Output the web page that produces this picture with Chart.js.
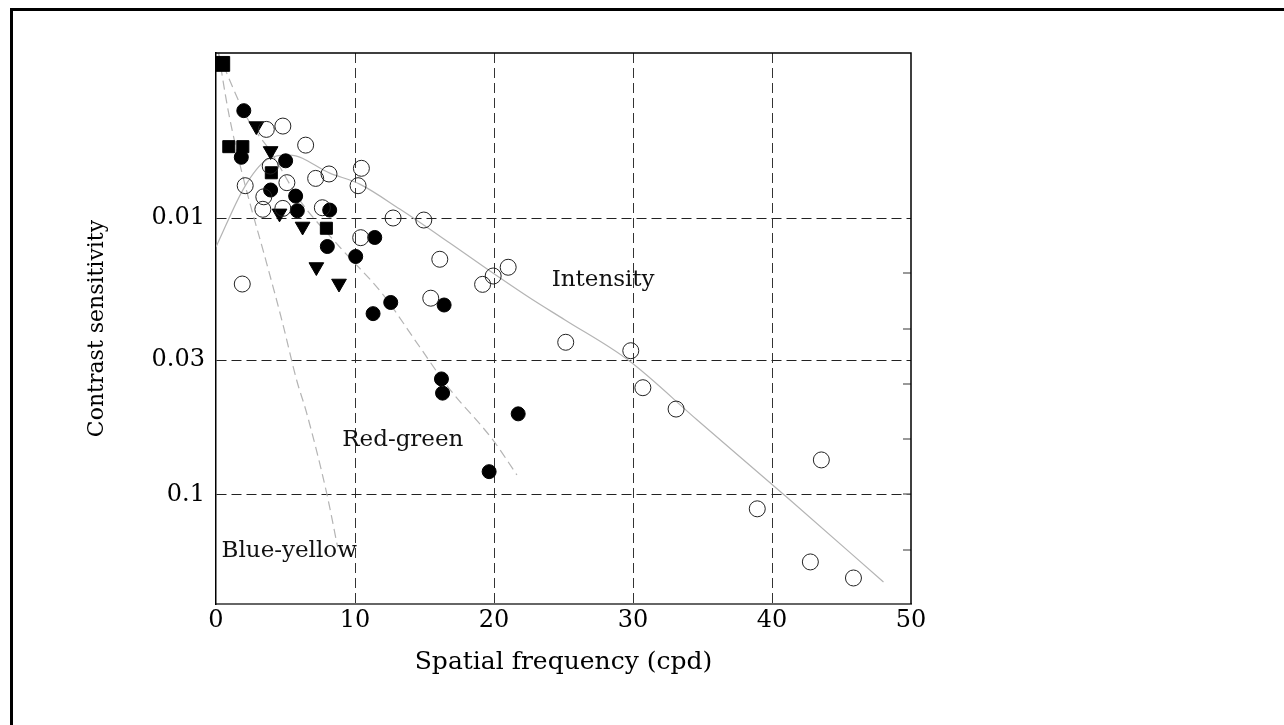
<!DOCTYPE html>
<html><head><meta charset="utf-8">
<script src="https://cdn.jsdelivr.net/npm/chart.js@4"></script>
<style>
html,body{margin:0;padding:0;background:#fff;overflow:hidden;}
#frame{position:absolute;left:10px;top:8px;width:1300px;height:740px;border-left:3px solid #000;border-top:3px solid #000;}
#wrap{position:absolute;left:0;top:0;width:1284px;height:725px;}
</style></head><body>
<div id="frame"></div>
<div id="wrap"><canvas id="c" width="1284" height="725"></canvas></div>
<script>
// ---- Data ----
const intensityX = [3.62,4.81,6.45,3.90,7.17,8.13,10.46,10.22,2.10,5.10,3.44,3.37,4.81,7.65,12.74,14.95,10.41,1.89,16.10,21.02,19.94,19.18,15.45,25.16,29.84,30.71,33.10,38.94,43.55,42.76,45.86];
const intensityY = [0.00478,0.00465,0.00545,0.00649,0.00719,0.00693,0.00661,0.00764,0.00764,0.00745,0.00838,0.00930,0.00923,0.00918,0.0100,0.01017,0.01178,0.01733,0.01410,0.01507,0.01621,0.01738,0.01950,0.02815,0.0302,0.0411,0.0491,0.1127,0.0750,0.1754,0.2005];

const redGreenX = [2.00,1.82,5.01,3.93,5.73,5.85,8.18,11.42,8.01,10.05,12.57,11.30,16.41,16.22,16.30,21.74,19.65];
const redGreenY = [0.00409,0.00603,0.00621,0.00792,0.00833,0.00941,0.00936,0.01176,0.01268,0.01378,0.02021,0.02218,0.02064,0.0382,0.0430,0.0511,0.0827];

const triangleX = [2.90,3.93,4.57,6.23,7.22,8.85];
const triangleY = [0.00465,0.00572,0.00962,0.01073,0.01504,0.01725];

const squareX = [0.45,0.92,1.93,3.98,7.94];
const squareY = [0.00277,0.00552,0.00552,0.00686,0.01089];

const intensityFitX = [0,2.05,3.62,5.3,8.18,10.34,13.22,16.82,19.92,22.59,25.11,29.65,34.62,41.3,48.02];
const intensityFitY = [0.01273,0.00773,0.00617,0.00592,0.00688,0.00754,0.00928,0.01231,0.01581,0.01947,0.02338,0.03265,0.0538,0.1047,0.2073];

const redGreenFitX = [0.15,2.20,4.0,6.02,8.90,11.92,14.66,16.68,19.92,21.65];
const redGreenFitY = [0.00253,0.00431,0.00582,0.00861,0.01273,0.01867,0.02928,0.0408,0.0635,0.0850];

const blueYellowFitX = [0.18,0.83,1.48,2.13,3.64,4.79,5.80,6.52,7.96,8.75];
const blueYellowFitY = [0.00253,0.00397,0.00568,0.00773,0.01455,0.02398,0.03855,0.0507,0.0988,0.1549];

const xTickValues = [0,10,20,30,40,50];
const yTickValues = [0.01,0.0327,0.1];
const yTickLabels = ['0.01','0.03','0.1'];
const rightTickValues = [0.01585,0.02512,0.03981,0.0631,0.1,0.1585];

const curveLabels = ['Intensity','Red-green','Blue-yellow'];
const curveLabelX = [27.85,13.44,0.4];
const curveLabelY = [0.01676,0.0635,0.160];

// ---- helpers ----
const pts = (xs, ys) => xs.map((x,i)=>({x:x, y:ys[i]}));
const FONT = '"DejaVu Serif", serif';

const decor = {
  id:'decor',
  afterDatasetsDraw(chart){
    const {ctx, chartArea:a, scales:{x,y}} = chart;
    ctx.save();
    // inward minor ticks on the right edge
    ctx.strokeStyle = '#777'; ctx.lineWidth = 1.5;
    rightTickValues.forEach(v=>{
      const py = Math.round(y.getPixelForValue(v));
      ctx.beginPath(); ctx.moveTo(a.right-8, py); ctx.lineTo(a.right, py); ctx.stroke();
    });
    // top and right frame of the plot
    ctx.strokeStyle = '#000'; ctx.lineWidth = 1.5;
    ctx.beginPath();
    ctx.moveTo(a.left, a.top); ctx.lineTo(a.right, a.top); ctx.lineTo(a.right, a.bottom);
    ctx.stroke();
    // curve labels
    ctx.fillStyle = '#111';
    ctx.font = '23px ' + FONT;
    ctx.textBaseline = 'middle';
    curveLabels.forEach((t,i)=>{
      ctx.textAlign = i===2 ? 'left' : 'center';
      ctx.fillText(t, x.getPixelForValue(curveLabelX[i]), y.getPixelForValue(curveLabelY[i]));
    });
    ctx.restore();
  }
};

const lineDs = (label, xs, ys, dash) => ({
  type:'scatter', label, data: pts(xs,ys), showLine:true, pointRadius:0,
  borderColor:'#b4b4b4', borderWidth:1.2, borderDash:dash, cubicInterpolationMode:'monotone',
  fill:false, order:5
});

new Chart(document.getElementById('c'), {
  type:'scatter',
  data:{ datasets:[
    lineDs('Intensity fit', intensityFitX, intensityFitY, []),
    lineDs('Red-green fit', redGreenFitX, redGreenFitY, [9,5]),
    lineDs('Blue-yellow fit', blueYellowFitX, blueYellowFitY, [9,5]),
    { label:'Intensity', data:pts(intensityX,intensityY), pointStyle:'circle', pointRadius:8,
      backgroundColor:'rgba(0,0,0,0)', borderColor:'#222', borderWidth:1, order:1 },
    { label:'Red-green', data:pts(redGreenX,redGreenY), pointStyle:'circle', pointRadius:7,
      backgroundColor:'#000', borderColor:'#000', borderWidth:1, order:1 },
    { label:'Triangles', data:pts(triangleX,triangleY), pointStyle:'triangle', rotation:180, pointRadius:8.5,
      backgroundColor:'#000', borderColor:'#000', borderWidth:1, order:1 },
    { label:'Squares', data:pts(squareX,squareY), pointStyle:'rect',
      pointRadius: c => c.dataIndex===0 ? 10.5 : 8.5,
      backgroundColor:'#000', borderColor:'#000', borderWidth:1, order:1 }
  ]},
  options:{
    responsive:false, animation:false, devicePixelRatio:1,
    layout:{ padding:{ left:0, top:53, right:373, bottom:0 } },
    plugins:{ legend:{display:false}, tooltip:{enabled:false} },
    scales:{
      x:{
        type:'linear', min:0, max:50,
        afterBuildTicks: s => { s.ticks = xTickValues.map(v=>({value:v})); },
        afterFit: s => { s.height = 121; },
        grid:{ drawTicks:false, color: c => (c.tick && (c.tick.value===0 || c.tick.value===50)) ? 'rgba(0,0,0,0)' : '#333', lineWidth:1 },
        border:{ display:true, color:'#666', width:2, dash:[10,5] },
        ticks:{ padding:2, color:'#000', font:{ family:FONT, size:24 }, maxRotation:0 },
        title:{ display:true, text:'Spatial frequency (cpd)', color:'#000', font:{ family:FONT, size:25 }, padding:{ top:0, bottom:48 } }
      },
      y:{
        type:'logarithmic', min:0.00253, max:0.249, reverse:true,
        afterBuildTicks: s => { s.ticks = yTickValues.map(v=>({value:v})); },
        afterFit: s => { s.width = 216; },
        grid:{ drawTicks:false, color:'#222', lineWidth:1 },
        border:{ display:true, color:'#000', width:1.5, dash:[10,5] },
        ticks:{ padding:11, color:'#000', font:{ family:FONT, size:24 }, callback:(v,i)=>yTickLabels[i] },
        title:{ display:true, text:'Contrast sensitivity', color:'#000', font:{ family:FONT, size:22 }, padding:{ top:84, bottom:0 } }
      }
    }
  },
  plugins:[decor]
});
</script>
</body></html>
